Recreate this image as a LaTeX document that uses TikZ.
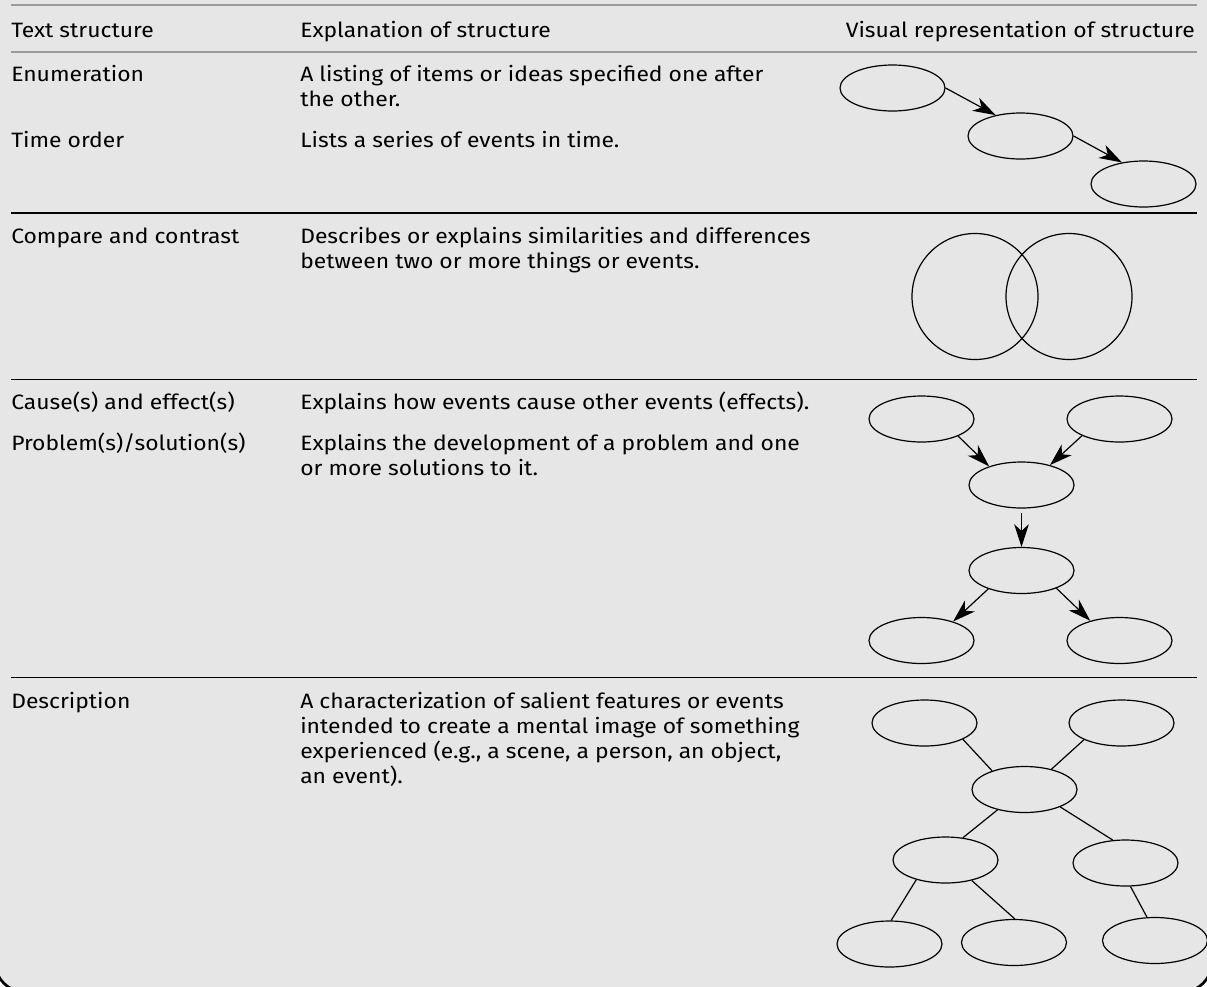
\documentclass[tikz,border=0pt]{standalone}
\usepackage{fontspec}
\setmainfont{Fira Sans}[FakeStretch=1.1]
\usetikzlibrary{shapes.geometric, arrows.meta}
\definecolor{panelgray}{RGB}{230,230,230}
\definecolor{rulegray}{RGB}{155,155,155}

\begin{document}
\begin{tikzpicture}[x=0.75pt,y=0.75pt,yscale=-1,xscale=1,
    bubble/.style={draw, ellipse, line width=0.9pt, minimum width=78.75pt, minimum height=34.5pt, inner sep=0pt},
    ring/.style={draw, circle, line width=0.9pt, minimum size=94.5pt, inner sep=0pt},
    flow/.style={line width=0.9pt, -{Stealth[length=17pt,width=11pt,inset=5pt]}},
    link/.style={line width=0.9pt},
    cell/.style={anchor=base west, inner sep=0pt, align=left, font=\fontsize{15.6}{18.75}\selectfont},
    toprule/.style={draw=rulegray, line width=1.5pt},
    rowrule/.style={draw=black, line width=1.2pt}]
    %set diagram left start at 0, and has height of 986
    \useasboundingbox (0,0) rectangle (1207,986);
    \fill[white] (0,0) rectangle (1207,986);
    \fill[panelgray, rounded corners=22.5pt] (-5,-50) rectangle (1212,992);
    
    %Shape: Frame corners
    \begin{scope}
    \clip (0,0) rectangle (1207,986);
    \draw[line width=2pt, rounded corners=22.5pt] (-5,-50) rectangle (1212,992);
    \end{scope}
    
    %Straight Lines: rules
    \draw[toprule] (11,5) -- (1197,5);
    \draw[toprule] (11,52.3) -- (1197,52.3);
    \draw[rowrule] (11,213) -- (1197,213);
    \draw[rowrule] (11,379.3) -- (1197,379.3);
    \draw[rowrule] (11,677.5) -- (1197,677.5);
    
    % Text Node (base = last line)
    \draw (11,37.3) node [cell] (hdText) {Text structure};
    % Text Node
    \draw (300,37.3) node [cell] (hdExpl) {Explanation of structure};
    % Text Node
    \draw (1195,37.3) node [cell, anchor=base east] (hdVis) {Visual representation of structure};
    
    % Text Node
    \draw (11,81.7) node [cell] (tEnum) {Enumeration};
    % Text Node
    \draw (300,106.7) node [cell] (xEnum) {A listing of items or ideas specified one after\\the other.};
    % Text Node
    \draw (11,147.7) node [cell] (tTime) {Time order};
    % Text Node
    \draw (300,147.7) node [cell] (xTime) {Lists a series of events in time.};
    
    % Text Node
    \draw (11,243.5) node [cell] (tComp) {Compare and contrast};
    % Text Node
    \draw (300,268.5) node [cell] (xComp) {Describes or explains similarities and differences\\between two or more things or events.};
    
    % Text Node
    \draw (11,409.5) node [cell] (tCause) {Cause(s) and effect(s)};
    % Text Node
    \draw (300,409.5) node [cell] (xCause) {Explains how events cause other events (effects).};
    % Text Node
    \draw (11,450.5) node [cell] (tProb) {Problem(s)/solution(s)};
    % Text Node
    \draw (300,475.5) node [cell] (xProb) {Explains the development of a problem and one\\or more solutions to it.};
    
    % Text Node
    \draw (11,708) node [cell] (tDesc) {Description};
    % Text Node
    \draw (300,783) node [cell] (xDesc) {A characterization of salient features or events\\intended to create a mental image of something\\experienced (e.g., a scene, a person, an object,\\an event).};
    
    %Shape: Ellipse chain
    \draw (892.5,88) node [bubble] (enA) {};
    \draw (1020.5,136) node [bubble] (enB) {};
    \draw (1143.5,184) node [bubble] (enC) {};
    \draw[flow] (enA.east) -- (enB.140);
    \draw[flow] (enB.east) -- (enC.135);
    
    %Shape: Circles
    \draw (975,296.5) node [ring] (cmL) {};
    \draw (1069,296.5) node [ring] (cmR) {};
    
    %Shape: Ellipse cause tree
    \draw (921.5,419) node [bubble] (caA) {};
    \draw (1119.5,419) node [bubble] (caB) {};
    \draw (1021.5,485) node [bubble] (caC) {};
    \draw (1021.5,570.5) node [bubble] (caD) {};
    \draw (921.5,640.5) node [bubble] (caE) {};
    \draw (1119.5,640.5) node [bubble] (caF) {};
    \draw[flow] (caA.-25) -- (caC.150);
    \draw[flow] (caB.204) -- (caC.35);
    \draw[flow, shorten <=3pt] (caC.south) -- (caD.north);
    \draw[flow] (caD.209) -- (caE.31);
    \draw[flow] (caD.-27) -- (caF.146);
    
    %Shape: Ellipse description web
    \draw (924.5,723) node [bubble] (deA) {};
    \draw (1121.5,723) node [bubble] (deB) {};
    \draw (1024.5,789.5) node [bubble] (deC) {};
    \draw (945.5,860) node [bubble] (deD) {};
    \draw (1125.5,863) node [bubble] (deE) {};
    \draw (889.5,944) node [bubble] (deF) {};
    \draw (1014,942.5) node [bubble] (deG) {};
    \draw (1155,940.5) node [bubble] (deH) {};
    \draw[link] (deA.-23) -- (deC.150);
    \draw[link] (deB.204) -- (deC.37);
    \draw[link] (deC.217) -- (deD.52);
    \draw[link] (deC.-26) -- (deE.119);
    \draw[link] (deD.214) -- (deF.86);
    \draw[link] (deD.-38) -- (deG.88);
    \draw[link] (deE.-78) -- (deH.109);
    
\end{tikzpicture}
\end{document}
